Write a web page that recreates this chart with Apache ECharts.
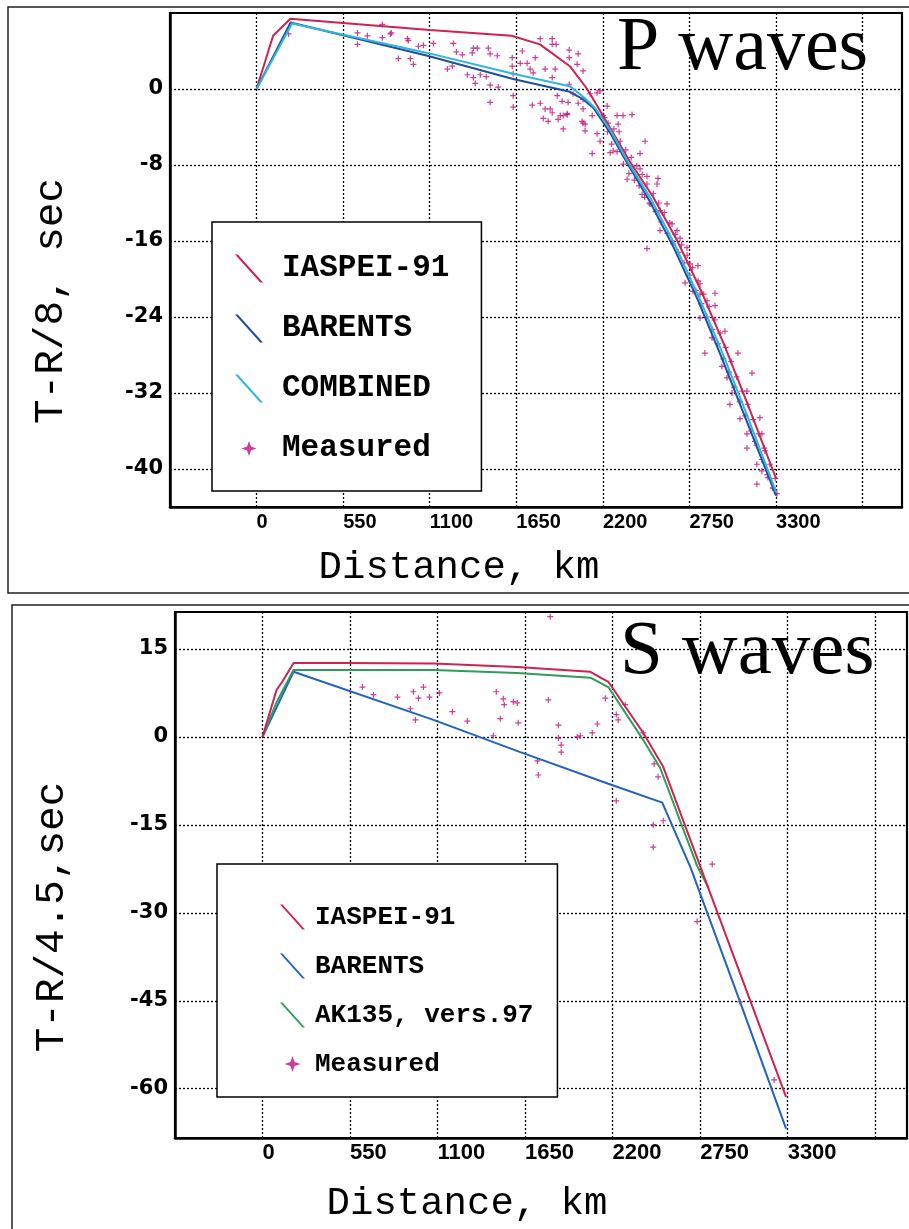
<!DOCTYPE html>
<html><head><meta charset="utf-8">
<script src="https://cdn.jsdelivr.net/npm/echarts@6/dist/echarts.min.js"></script>
<style>
html,body{margin:0;padding:0;background:#fff;width:909px;height:1229px;overflow:hidden}
#p{position:absolute;left:0;top:0;width:909px;height:598px}
#s{position:absolute;left:0;top:598px;width:909px;height:631px}
</style></head><body><div id="p"></div><div id="s"></div>
<script>
// ---------- shared axis ticks ----------
const distanceTicks = [0, 550, 1100, 1650, 2200, 2750, 3300, 3850];
const distanceLabels = [0, 550, 1100, 1650, 2200, 2750, 3300];
const pTimeTicks = [-40, -32, -24, -16, -8, 0];
const sTimeTicks = [-60, -45, -30, -15, 0, 15];

// ---------- P waves: [distance km, T-R/8 sec] ----------
const pIaspei91 = [[0,0],[105,5.6],[215,7.4],[1100,6.2],[1620,5.6],[1800,4.7],[1990,2.4],[2100,0],[2182,-2.3],[2370,-7.6],[2520,-11.4],[2670,-15.9],[2820,-21.1],[2970,-26.9],[3120,-33.2],[3300,-41.0]];
const pBarents = [[0,0],[216,7.0],[1085,3.5],[1630,1.05],[1990,-0.3],[2075,-1.1],[2140,-2.0],[2246,-4.6],[2354,-7.8],[2500,-11.9],[2650,-16.7],[2800,-22.1],[2950,-28.1],[3100,-34.4],[3300,-42.8]];
const pCombined = [[0,0],[225,6.9],[1085,3.8],[1630,1.6],[1990,0.3],[2080,-0.9],[2150,-2.0],[2250,-4.4],[2360,-7.7],[2510,-11.7],[2660,-16.5],[2810,-21.9],[2960,-27.8],[3110,-34.1],[3300,-42.4]];
const pMeasured = [
 [203,5.8],[641,4.7],[641,5.9],[704,5.6],[799,5.4],[799,6.8],[850,5.8],[856,5.9],[901,3.2],[958,5.3],[964,5.1],[977,3.2],[996,2.6],[1028,4.5],[1060,4.6],[1123,4.8],[1250,4.8],[1212,2.1],[1243,2.4],[1269,3.9],[1307,3.6],[1370,3.8],[1377,4.3],[1402,4.3],[1472,4.3],[1484,3.7],[1529,3.5],[1339,1.5],[1377,1.2],[1421,1.5],[1459,1.3],[1389,0.6],[1484,0.4],[1535,0.2],[1484,-1.4],[1624,3.3],[1624,2.4],[1630,1.6],[1630,-0.7],[1630,-1.9],[1688,4.0],[1675,2.7],[1719,2.7],[1738,2.1],[1757,1.7],[1770,3.3],[1802,5.3],[1833,2.1],[1878,5.3],[1878,4.7],[1903,4.7],[1897,2.1],[1878,1.2],[1986,4.1],[1986,3.3],[2043,3.7],[2036,2.6],[2074,1.9],[1986,0.5],[1910,-0.7],[1941,-1.3],[1979,-1.4],[1751,-1.7],[1802,-1.5],[1821,-3.1],[1852,-3.4],[1833,-2.1],[1865,-2.1],[1878,-2.5],[1929,-2.8],[1916,-3.2],[1973,-2.6],[2074,-3.6],[2087,-4.4],[2074,-1.1],[2119,-0.5],[2163,-0.4],[2182,-0.2],[2011,-0.5],[2043,-1.5],[2074,-2.1],[2132,-2.8],[2227,-1.8],[2201,-2.8],[2233,-3.6],[2290,-2.8],
 [1948,-2.8],[1973,-2.7],[1948,-4.2],[2068,-3.4],[2087,-3.7],[2132,-6.8],[2163,-4.7],[2182,-5.5],[2246,-6.7],[2265,-6.5],[2328,-2.8],[2385,-2.7],[2297,-3.7],[2303,-4.5],[2468,-5.5],[2436,-6.8],[2354,-9.5],[2385,-8.3],[2436,-8.4],[2480,-9.2],[2550,-9.4],[2544,-10],[2449,-11.1],[2500,-12.1],[2563,-12.8],[2607,-12.1],[2563,-14.9],[2639,-14.2],[2671,-14.9],[2690,-15.7],[2480,-16.8],[2645,-16.3],[2734,-16.7],[2753,-18.4],[2804,-18.6],[2722,-20.4],[2772,-21.3],[2817,-21.6],[2861,-22.3],[2912,-21.5],[2817,-20.5],[2912,-22.8],[2817,-24.1],[2848,-27.8],[2975,-25.5],[3058,-27.8],[3147,-29.9],[2893,-26.2],[2956,-29.2],[2988,-30.4],[3020,-32],[3007,-33.2],[3115,-31.8],[3071,-34.7],[3197,-34.6],[3115,-36.3],[3115,-37.8],[3166,-37.1],[3210,-36.3],[3229,-38.1],[3178,-39.5],[3210,-40.2],[3178,-41.6],[3248,-40.9],[3280,-42],[3305,-42.6],
 [2210,-3.0],[2230,-4.5],[2255,-5.8],[2270,-4.2],[2290,-6.6],[2310,-5.5],[2330,-7.9],[2345,-6.4],[2365,-8.9],[2380,-7.2],[2400,-9.6],[2415,-8.1],[2430,-10.2],[2450,-9.0],[2465,-11.4],[2480,-10.0],[2495,-12.0],[2520,-11.0],[2535,-12.9],[2555,-12.0],[2570,-14.0],[2590,-13.0],[2610,-15.2],[2625,-14.1],[2640,-16.0],[2660,-15.3],[2680,-17.2],[2700,-16.4],[2715,-18.3],[2735,-17.5],[2750,-19.6],[2770,-18.8],[2790,-21.2],[2805,-20.2],[2825,-22.6],[2840,-21.6],[2860,-24.0],[2875,-22.9],[2895,-25.3],[2910,-24.3],[2930,-26.8],[2945,-25.7],[2965,-28.4],[2980,-27.2],[3000,-29.8],[3015,-28.7],[3035,-31.4],[3050,-30.3],[3070,-32.9],[3085,-31.8],[3105,-34.4],[3120,-33.2],[3140,-36.0],[3155,-34.8],[3175,-37.5],[3190,-36.3],[3210,-39.0],[3225,-37.8],[3245,-40.6],[3260,-39.5],[3280,-42.0],[3295,-41.0]
];

// ---------- S waves: [distance km, T-R/4.5 sec] ----------
const sIaspei91 = [[0,0],[88,8.0],[124,9.4],[195,12.6],[509,12.6],[1074,12.5],[1601,11.9],[2060,11.1],[2173,9.4],[2392,0.7],[2518,-5.1],[3290,-61.4]];
const sBarents = [[0,0],[195,11.1],[1074,2.9],[1620,-2.6],[2173,-8.0],[2512,-11.2],[2690,-22.3],[3001,-45.2],[3290,-66.8]];
const sAk135 = [[0,0],[90,6.0],[195,11.4],[1074,11.4],[1601,10.9],[2060,10.1],[2173,8.5],[2392,-0.5],[2499,-5.3],[2731,-22],[2800,-25.6]];
const sMeasured = [[628,8.5],[697,7.2],[848,6.8],[948,7.7],[980,6.6],[1011,8.5],[1049,6.8],[1111,7.5],[929,4.8],[961,2.9],[1193,4.3],[1287,2.7],[1469,7.7],[1513,6.5],[1519,5.5],[1576,6.0],[1601,5.8],[1494,3.1],[1607,2.4],[1796,6.3],[1859,2.0],[1859,-0.2],[1877,-1.4],[1877,-2.6],[1450,0.2],[1978,0],[1997,0.2],[2072,0.7],[2104,2.2],[1727,-4.1],[1733,-6.5],[2154,6.6],[2223,3.8],[2235,2.9],[2279,5.5],[2392,0.7],[2461,-4.6],[2486,-6.8],[2223,-10.9],[2455,-15],[2518,-14.3],[2455,-18.8],[1808,20.5],[2826,-21.7],[2731,-31.5],[3001,-45.2],[3215,-58.5]];

// ---------- styling ----------
const lineIcon = 'path://M0,0L1,0L10,10L9,10Z';
const starIconP = 'path://M-4.3,-4.3M14.3,14.3M5,0L6.3,3.7L10,5L6.3,6.3L5,10L3.7,6.3L0,5L3.7,3.7Z';
const starIconS = 'path://M-2.8,-2.8M12.8,12.8M5,0L6.3,3.7L10,5L6.3,6.3L5,10L3.7,6.3L0,5L3.7,3.7Z';
const plusSymbol = 'path://M4,0H6V4H10V6H6V10H4V6H0V4H4Z';
const RED = '#d0224f', NAVY = '#1f4f9f', CYAN = '#2fb6de', BLUE = '#2163c0', GREEN = '#2f9c5a', MAG = '#c41c88';

function lineSeries(name, data, color) {
  return {name, type:'line', data, symbol:'none', showSymbol:false, smooth:false,
    lineStyle:{color, width:2}, itemStyle:{color}, silent:true};
}
function panel(cfg) {
  return {
    animation:false,
    grid:{left:cfg.left, top:cfg.top, width:cfg.width, height:cfg.height, show:true, borderColor:'#000', borderWidth:2.2,
      containLabel:false, outerBoundsMode:'none'},
    xAxis:{type:'value', min:-550, max:cfg.xMax,
      axisLine:{show:true, onZero:false, lineStyle:{color:'#000', width:2.5}},
      axisTick:{show:false, customValues:distanceTicks},
      axisLabel:{customValues:distanceLabels, align:'left', margin:cfg.xLabelMargin, color:'#000',
        formatter:(v) => String(v),
        fontFamily:'Liberation Sans', fontWeight:'bold', fontSize:cfg.xLabelSize},
      splitLine:{show:true, lineStyle:{color:'#000', width:1.3, type:[2,2]}},
      name:'Distance, km', nameLocation:'middle', nameGap:cfg.xNameGap, nameMoveOverlap:false,
      nameTextStyle:{fontFamily:'Liberation Mono', fontSize:39, color:'#000', padding:[0,cfg.xNamePad,0,0]}},
    yAxis:{type:'value', min:cfg.yMin, max:cfg.yMax,
      axisLine:{show:true, onZero:false, lineStyle:{color:'#000', width:2.5}},
      axisTick:{show:false, customValues:cfg.yTicks},
      axisLabel:{customValues:cfg.yTicks, margin:7, color:'#000', formatter:(v) => String(v),
        fontFamily:'DejaVu Sans', fontWeight:'bold', fontSize:21},
      splitLine:{show:true, lineStyle:{color:'#000', width:1.3, type:[2,2]}},
      name:cfg.yName, nameLocation:'middle', nameRotate:90, nameGap:cfg.yNameGap, nameMoveOverlap:false,
      nameTextStyle:{fontFamily:'Liberation Mono', fontSize:41, color:'#000', padding:[0,cfg.yNamePad,0,0]}},
    legend:cfg.legend,
    graphic:cfg.graphic,
    series:cfg.series
  };
}

const chartP = echarts.init(document.getElementById('p'), null, {renderer:'canvas'});
chartP.setOption(panel({
  left:170, top:13, width:732, height:494, xMax:4100, xLabelMargin:5, xLabelSize:20,
  xNameGap:41, xNamePad:154,
  yMin:-44, yMax:8, yTicks:pTimeTicks, yName:'T-R/8, sec', yNameGap:98, yNamePad:82,
  legend:{orient:'vertical', left:212, top:222, padding:[31,32,27,23], itemGap:29, itemWidth:30, itemHeight:28,
    backgroundColor:'#fff', borderColor:'#000', borderWidth:1.5, selectedMode:false,
    textStyle:{fontFamily:'Liberation Mono', fontWeight:'bold', fontSize:31, color:'#000', lineHeight:28, padding:[0,0,0,13]},
    data:[{name:'IASPEI-91', icon:lineIcon},{name:'BARENTS', icon:lineIcon},{name:'COMBINED', icon:lineIcon},{name:'Measured', icon:starIconP}]},
  graphic:[
    {type:'rect', shape:{x:8, y:7, width:1000, height:586}, style:{fill:'none', stroke:'#222', lineWidth:1.5}, silent:true},
    {type:'text', x:617, y:49, style:{text:'P waves', fontFamily:'Liberation Serif', fontSize:76, fill:'#000', verticalAlign:'middle'}, silent:true, z:10}
  ],
  series:[
    lineSeries('IASPEI-91', pIaspei91, RED),
    lineSeries('BARENTS', pBarents, NAVY),
    lineSeries('COMBINED', pCombined, CYAN),
    {name:'Measured', type:'scatter', data:pMeasured, symbol:plusSymbol, symbolSize:6, itemStyle:{color:MAG, opacity:0.85}, silent:true}
  ]
}));

const chartS = echarts.init(document.getElementById('s'), null, {renderer:'canvas'});
chartS.setOption(panel({
  left:175, top:14, width:732, height:526, xMax:4050, xLabelMargin:4, xLabelSize:22,
  xNameGap:46, xNamePad:148,
  yMin:-68.4, yMax:21.3, yTicks:sTimeTicks, yName:'T-R/4.5,sec', yNameGap:102, yNamePad:84,
  legend:{orient:'vertical', left:217, top:266, padding:[40,24,20,63], itemGap:23, itemWidth:25, itemHeight:25,
    backgroundColor:'#fff', borderColor:'#000', borderWidth:1.5, selectedMode:false,
    textStyle:{fontFamily:'Liberation Mono', fontWeight:'bold', fontSize:26, color:'#000', lineHeight:25, padding:[0,0,0,5]},
    data:[{name:'IASPEI-91', icon:lineIcon},{name:'BARENTS', icon:lineIcon},{name:'AK135, vers.97', icon:lineIcon},{name:'Measured', icon:starIconS}]},
  graphic:[
    {type:'rect', shape:{x:12, y:7, width:1000, height:640}, style:{fill:'none', stroke:'#222', lineWidth:1.5}, silent:true},
    {type:'text', x:620, y:55, style:{text:'S waves', fontFamily:'Liberation Serif', fontSize:77, fill:'#000', verticalAlign:'middle'}, silent:true, z:10}
  ],
  series:[
    lineSeries('BARENTS', sBarents, BLUE),
    lineSeries('AK135, vers.97', sAk135, GREEN),
    lineSeries('IASPEI-91', sIaspei91, RED),
    {name:'Measured', type:'scatter', data:sMeasured, symbol:plusSymbol, symbolSize:6, itemStyle:{color:MAG, opacity:0.85}, silent:true}
  ]
}));
</script>
</body></html>
